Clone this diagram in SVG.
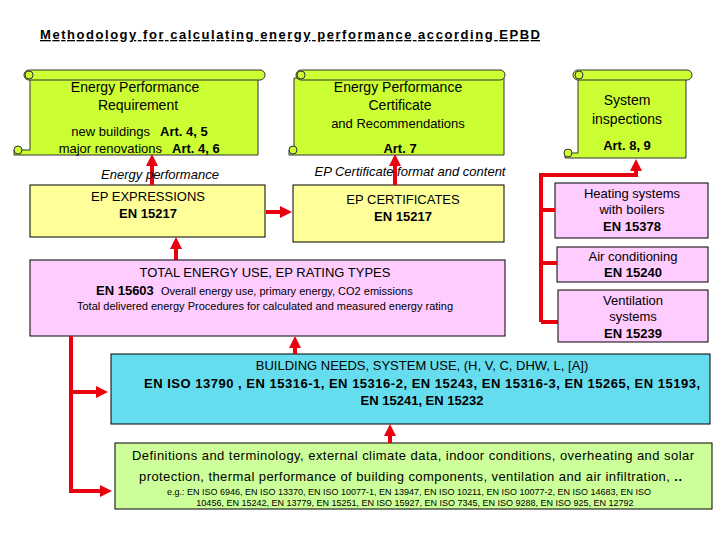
<svg xmlns="http://www.w3.org/2000/svg" width="720" height="540" viewBox="0 0 720 540">
<style>
text{font-family:"Liberation Sans",Arial,sans-serif;fill:#000}
.s{fill:#ccff33;stroke:#333;stroke-width:1}
.b{stroke:#000;stroke-width:1}
.c{stroke:#e8000f;stroke-width:4;fill:none}
.m{font-size:13px}
.bd{font-weight:bold}
</style>
<defs>
<marker id="a" markerWidth="3" markerHeight="3" refX="1" refY="1.5" orient="auto" markerUnits="strokeWidth"><path d="M0,0 L3,1.5 L0,3z" fill="#e8000f"/></marker>
</defs>
<rect width="720" height="540" fill="#fff"/>
<text x="40" y="39" class="bd" font-size="13" textLength="500" text-decoration="underline">Methodology for calculating energy performance according EPBD</text>
<g id="scroll1">
<path class="s" d="M30,78 H258 V155 H14 V150 H30Z"/>
<rect class="s" x="24" y="70" width="241" height="10" rx="5"/>
<circle class="s" cx="29" cy="75" r="4"/><circle class="s" cx="18" cy="150" r="4"/>
<text x="135" y="92" text-anchor="middle" font-size="14">Energy Performance</text>
<text x="138" y="110" text-anchor="middle" font-size="14">Requirement</text>
<text x="150" y="136" text-anchor="end" class="m">new buildings</text><text x="160" y="136" class="m bd">Art. 4, 5</text>
<text x="162" y="153" text-anchor="end" class="m">major renovations</text><text x="172" y="153" class="m bd">Art. 4, 6</text>
</g>
<g id="scroll2">
<path class="s" d="M294,78 H504 V155 H289 V150 H294Z"/>
<rect class="s" x="296" y="70" width="209" height="10" rx="5"/>
<circle class="s" cx="301" cy="75" r="4"/><circle class="s" cx="293" cy="150" r="4"/>
<text x="398" y="92" text-anchor="middle" font-size="14">Energy Performance</text>
<text x="400" y="110" text-anchor="middle" font-size="14">Certificate</text>
<text x="398" y="128" text-anchor="middle" class="m">and Recommendations</text>
<text x="400" y="153" text-anchor="middle" class="m bd">Art. 7</text>
</g>
<g id="scroll3">
<path class="s" d="M578,78 H686 V158 H565 V153 H578Z"/>
<rect class="s" x="573" y="70" width="119" height="10" rx="5"/>
<circle class="s" cx="579" cy="75" r="4"/><circle class="s" cx="568" cy="153" r="4"/>
<text x="627" y="105" text-anchor="middle" font-size="14">System</text>
<text x="627" y="124" text-anchor="middle" font-size="14">inspections</text>
<text x="627" y="150" text-anchor="middle" class="m bd">Art. 8, 9</text>
</g>
<g id="epexp"><rect class="b" x="30" y="185" width="235" height="52" fill="#ffff99"/>
<text x="148" y="201" text-anchor="middle" class="m">EP EXPRESSIONS</text><text x="148" y="218" text-anchor="middle" class="m bd">EN 15217</text></g>
<g id="epcert"><rect class="b" x="293" y="185" width="211" height="57" fill="#ffff99"/>
<text x="403" y="204" text-anchor="middle" class="m">EP CERTIFICATES</text><text x="403" y="221" text-anchor="middle" class="m bd">EN 15217</text></g>
<g id="heat"><rect class="b" x="555" y="183" width="153" height="55" fill="#ffccff"/>
<text x="632" y="198" text-anchor="middle" class="m">Heating systems</text><text x="632" y="214" text-anchor="middle" class="m">with boilers</text><text x="632" y="231" text-anchor="middle" class="m bd">EN 15378</text></g>
<g id="air"><rect class="b" x="557" y="247" width="151" height="35" fill="#ffccff"/>
<text x="633" y="261" text-anchor="middle" class="m">Air conditioning</text><text x="633" y="277" text-anchor="middle" class="m bd">EN 15240</text></g>
<g id="vent"><rect class="b" x="558" y="290" width="150" height="52" fill="#ffccff"/>
<text x="633" y="305" text-anchor="middle" class="m">Ventilation</text><text x="633" y="321" text-anchor="middle" class="m">systems</text><text x="633" y="338" text-anchor="middle" class="m bd">EN 15239</text></g>
<g id="total"><rect class="b" x="30" y="260" width="475" height="76" fill="#ffccff"/>
<text x="265" y="277" text-anchor="middle" class="m">TOTAL ENERGY USE, EP RATING TYPES</text>
<text x="96" y="295" class="m bd">EN 15603</text><text x="161" y="295" font-size="11">Overall energy use, primary energy, CO2 emissions</text>
<text x="265" y="310" text-anchor="middle" font-size="11">Total delivered energy Procedures for calculated and measured energy rating</text></g>
<g id="needs"><rect class="b" x="111" y="354" width="599" height="70" fill="#66ddee"/>
<text x="422" y="370" text-anchor="middle" class="m">BUILDING NEEDS, SYSTEM USE, (H, V, C,  DHW, L, [A])</text>
<text x="422" y="388" text-anchor="middle" class="m bd" textLength="556">EN ISO 13790 , EN 15316-1, EN 15316-2, EN 15243, EN 15316-3, EN 15265, EN 15193,</text>
<text x="422" y="405" text-anchor="middle" class="m bd">EN 15241, EN 15232</text></g>
<g id="defs"><rect class="b" x="115" y="443" width="597" height="66" fill="#ccff99"/>
<text x="413" y="460" text-anchor="middle" class="m" textLength="562">Definitions and terminology, external climate data, indoor conditions, overheating and solar</text>
<text x="139" y="481" class="m" textLength="543">protection, thermal performance of building components, ventilation and air infiltration, <tspan class="bd">..</tspan></text>
<text x="409" y="495" text-anchor="middle" font-size="9">e.g.: EN ISO 6946, EN ISO 13370, EN ISO 10077-1, EN 13947, EN ISO 10211, EN ISO 10077-2, EN ISO 14683, EN ISO</text>
<text x="415" y="506" text-anchor="middle" font-size="9">10456, EN 15242, EN 13779, EN 15251, EN ISO 15927, EN ISO 7345, EN ISO 9288, EN ISO 925, EN 12792</text></g>
<g id="connectors">
<path class="c" d="M152,185 V162" marker-end="url(#a)"/>
<path class="c" d="M395,185 V162" marker-end="url(#a)"/>
<path class="c" d="M266,212 H284" marker-end="url(#a)"/>
<path class="c" d="M176,260 V245" marker-end="url(#a)"/>
<path class="c" d="M295,354 V344" marker-end="url(#a)"/>
<path class="c" d="M390,443 V432" marker-end="url(#a)"/>
<path class="c" d="M71,336 V491 H104" marker-end="url(#a)"/>
<path class="c" d="M71,392 H100" marker-end="url(#a)"/>
<path class="c" d="M541,322 V175 H636 V167" marker-end="url(#a)"/>
<path class="c" d="M541,210 H555 M541,263 H557 M541,322 H558"/>
<text x="160" y="179" text-anchor="middle" font-style="italic" class="m">Energy  performance</text>
<text x="410" y="176" text-anchor="middle" font-style="italic" class="m">EP Certificate  format and content</text>
</g>
</svg>
